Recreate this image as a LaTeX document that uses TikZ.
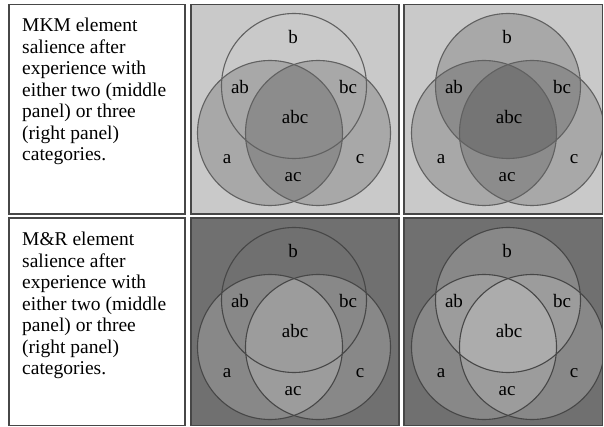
\documentclass[tikz,border=0pt]{standalone}
\usepackage{fontspec}
\setmainfont{Liberation Serif}
\begin{document}
\begin{tikzpicture}[x=1pt,y=-1pt,
  panel/.style={draw=black!72, line width=1.7pt},
  ring/.style={draw=black!62, line width=1.1pt},
  ringdark/.style={draw=black!72, line width=1.1pt},
  shadeA/.style={fill=black, fill opacity=0.16},
  lightA/.style={fill=white, fill opacity=0.17},
  lab/.style={font=\fontsize{19}{21}\selectfont, inner sep=0pt},
  caption/.style={font=\fontsize{19.5}{21.5}\selectfont, inner sep=0pt, align=left, anchor=north west}]
\useasboundingbox (0,0) rectangle (604,427);
\fill[white] (0,0) rectangle (604,427);
\definecolor{bgtop}{gray}{0.79}
\definecolor{bgbot}{gray}{0.44}

% ---------- text boxes ----------
\draw[panel] (9,4.5) rectangle (185,214);
\node[caption] (captop) at (22,18.2) {MKM element\\salience after\\experience with\\either two (middle\\panel) or three\\(right panel)\\categories.};
\draw[panel] (9,218) rectangle (185,425.5);
\node[caption] (capbot) at (22,232.2) {M\&R element\\salience after\\experience with\\either two (middle\\panel) or three\\(right panel)\\categories.};

% ---------- top middle ----------
\begin{scope}
  \clip (191,4.5) rectangle (399,214);
  \fill[bgtop] (191,4.5) rectangle (399,214);
  \fill[shadeA] (270,133) circle[radius=72.5];
  \fill[shadeA] (318,133) circle[radius=72.5];
  \draw[ring] (294,86) circle[radius=72.5];
  \draw[ring] (270,133) circle[radius=72.5];
  \draw[ring] (318,133) circle[radius=72.5];
\end{scope}
\draw[panel] (191,4.5) rectangle (399,214);

% ---------- top right ----------
\begin{scope}
  \clip (404,4.5) rectangle (602.5,214);
  \fill[bgtop] (404,4.5) rectangle (602.5,214);
  \fill[shadeA] (508,86) circle[radius=72.5];
  \fill[shadeA] (484,133) circle[radius=72.5];
  \fill[shadeA] (532,133) circle[radius=72.5];
  \draw[ring] (508,86) circle[radius=72.5];
  \draw[ring] (484,133) circle[radius=72.5];
  \draw[ring] (532,133) circle[radius=72.5];
\end{scope}
\draw[panel] (404,4.5) rectangle (602.5,214);

% ---------- bottom middle ----------
\begin{scope}
  \clip (191,218) rectangle (399,425.5);
  \fill[bgbot] (191,218) rectangle (399,425.5);
  \fill[lightA] (270,347) circle[radius=72.5];
  \fill[lightA] (318,347) circle[radius=72.5];
  \draw[ringdark] (294,300) circle[radius=72.5];
  \draw[ringdark] (270,347) circle[radius=72.5];
  \draw[ringdark] (318,347) circle[radius=72.5];
\end{scope}
\draw[panel] (191,218) rectangle (399,425.5);

% ---------- bottom right ----------
\begin{scope}
  \clip (404,218) rectangle (602.5,425.5);
  \fill[bgbot] (404,218) rectangle (602.5,425.5);
  \fill[lightA] (508,300) circle[radius=72.5];
  \fill[lightA] (484,347) circle[radius=72.5];
  \fill[lightA] (532,347) circle[radius=72.5];
  \draw[ringdark] (508,300) circle[radius=72.5];
  \draw[ringdark] (484,347) circle[radius=72.5];
  \draw[ringdark] (532,347) circle[radius=72.5];
\end{scope}
\draw[panel] (404,218) rectangle (602.5,425.5);

% ---------- labels ----------
\foreach \dx/\dy/\p in {0/0/tm, 214/0/tr, 0/214/bm, 214/214/br}{
  \begin{scope}[shift={(\dx,\dy)}]
    \node[lab] (\p-b)   at (293,37)  {b};
    \node[lab] (\p-ab)  at (240,87)  {ab};
    \node[lab] (\p-bc)  at (348,87)  {bc};
    \node[lab] (\p-abc) at (295,117) {abc};
    \node[lab] (\p-a)   at (227,159) {a};
    \node[lab] (\p-c)   at (360,159) {c};
    \node[lab] (\p-ac)  at (293,177) {ac};
  \end{scope}
}
\end{tikzpicture}
\end{document}
